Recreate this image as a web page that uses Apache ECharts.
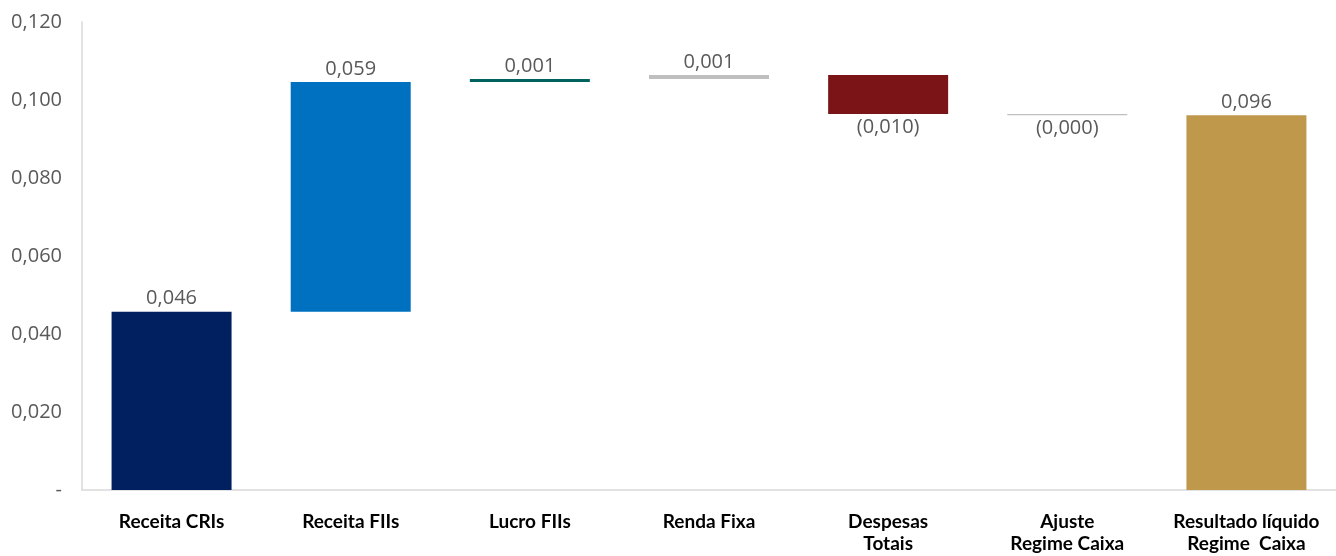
<!DOCTYPE html>
<html><head><meta charset="utf-8">
<script src="https://cdn.jsdelivr.net/npm/echarts@6/dist/echarts.min.js"></script>
<style>html,body{margin:0;padding:0;background:#fff}#c{width:1336px;height:556px}</style>
</head><body><div id="c"></div>
<script>
const categories = ['Receita CRIs','Receita FIIs','Lucro FIIs','Renda Fixa','Despesas\nTotais','Ajuste\nRegime Caixa','Resultado líquido\nRegime  Caixa'];
const deltas = [0.0457, 0.0589, 0.0008, 0.0010, -0.0100, -0.0003, 0.0961];
const isTotal = [false, false, false, false, false, false, true];
const colors = ['#002060','#0070C0','#00625F','#BFBFBF','#7B1416','#BFBFBF','#C0984B'];
const yTicks = { min: 0, max: 0.12, interval: 0.02 };

function fmt(v){
  const s = Math.abs(v).toFixed(3).replace('.', ',');
  return v < 0 ? '(' + s + ')' : s;
}
let run = 0;
const base = [], vis = [];
deltas.forEach((d, i) => {
  if (isTotal[i]) { base.push(0); vis.push(d); run = d; return; }
  const start = run, end = run + d;
  base.push(Math.min(start, end));
  vis.push(Math.abs(d));
  run = end;
});

const chart = echarts.init(document.getElementById('c'));
chart.setOption({
  animation: false,
  grid: { left: 82, right: 0, top: 22, bottom: 66 },
  xAxis: {
    type: 'category', data: categories,
    axisLine: { lineStyle: { color: '#D9D9D9', width: 1.5 } },
    axisTick: { show: false },
    axisLabel: { color: '#000', fontFamily: 'Lato', fontWeight: 'bold', fontSize: 19, lineHeight: 22, margin: 21, interval: 0 }
  },
  yAxis: {
    type: 'value', min: yTicks.min, max: yTicks.max, interval: yTicks.interval,
    splitLine: { show: false },
    axisLine: { show: true, lineStyle: { color: '#D9D9D9', width: 1.5 } },
    axisTick: { show: false },
    axisLabel: { color: '#595959', fontFamily: 'Open Sans', fontSize: 20, margin: 20,
      formatter: v => v === 0 ? '-' : v.toFixed(3).replace('.', ',') }
  },
  series: [
    { type: 'bar', stack: 'w', data: base, itemStyle: { color: 'transparent' }, barWidth: 120, silent: true },
    { type: 'bar', stack: 'w', barWidth: 120,
      data: vis.map((v, i) => ({
        value: v,
        itemStyle: { color: colors[i] },
        label: {
          show: true,
          position: deltas[i] < 0 ? 'bottom' : 'top',
          distance: 3,
          formatter: () => fmt(deltas[i]),
          color: '#595959', fontFamily: 'Open Sans', fontSize: 20
        }
      }))
    }
  ]
});
</script></body></html>
